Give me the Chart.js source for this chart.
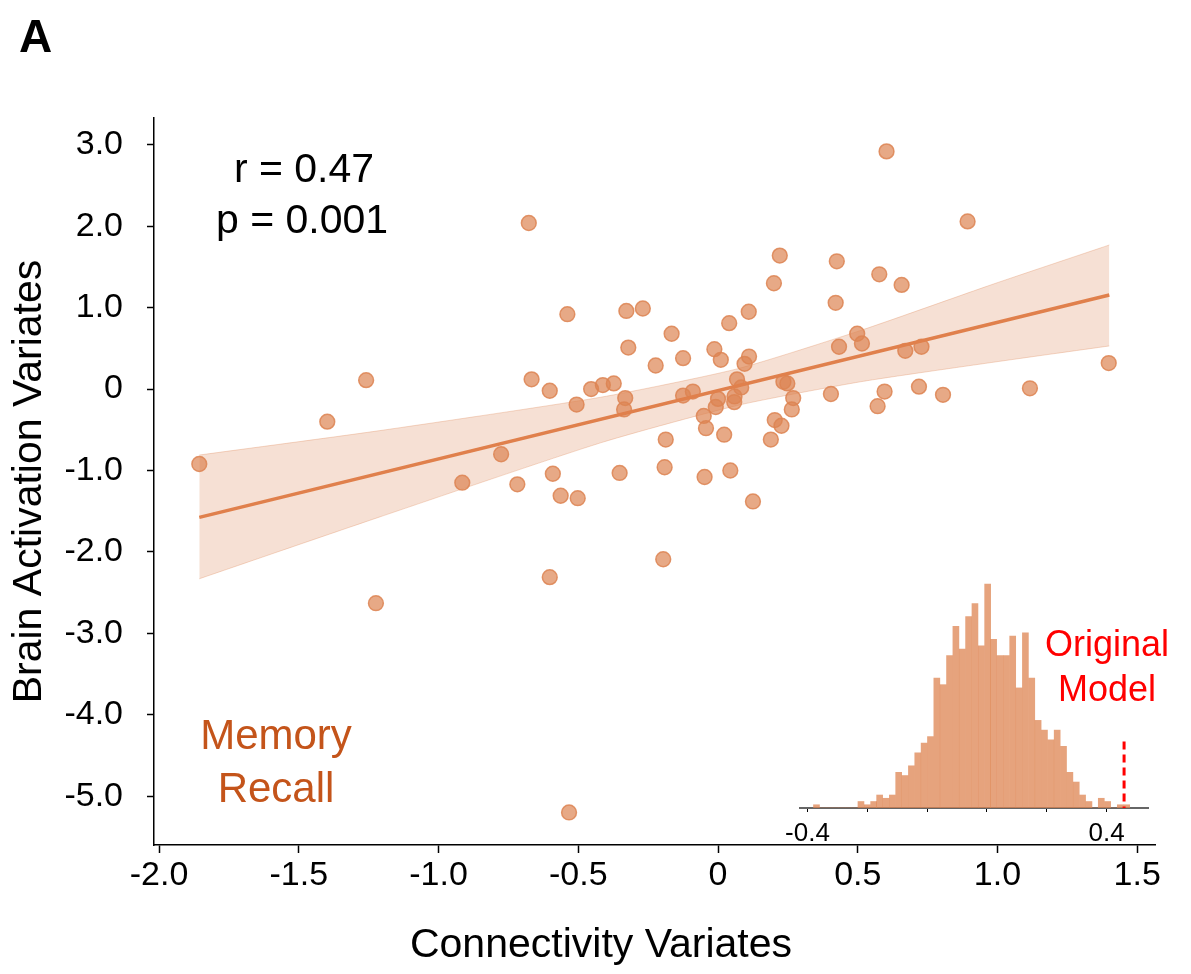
<!DOCTYPE html>
<html>
<head>
<meta charset="utf-8">
<script src="https://cdn.jsdelivr.net/npm/chart.js@4.4.1/dist/chart.umd.min.js"></script>
<style>
  html, body { margin: 0; padding: 0; background: #fff; }
  #wrap { position: relative; width: 1191px; height: 974px; }
  #main { position: absolute; left: 0; top: 0; }
  #inset { position: absolute; left: 760px; top: 570px; }
</style>
</head>
<body>
<div id="wrap">
  <canvas id="main" width="1191" height="974"></canvas>
  <canvas id="inset" width="400" height="290"></canvas>
</div>
<script>
// scatter: connectivity variate (x) vs brain activation variate (y)
const connX = [-1.856, -1.398, -1.259, -1.224, -0.915, -0.776, -0.718, -0.677, -0.667, -0.602,
  -0.602, -0.591, -0.563, -0.539, -0.533, -0.506, -0.502, -0.454, -0.412, -0.373,
  -0.352, -0.332, -0.336, -0.328, -0.321, -0.269, -0.223, -0.196, -0.191, -0.187,
  -0.166, -0.125, -0.125, -0.090, -0.051, -0.048, -0.043, -0.013, -0.008, 0.000,
  0.010, 0.022, 0.040, 0.044, 0.058, 0.059, 0.068, 0.083, 0.095, 0.110,
  0.111, 0.125, 0.189, 0.200, 0.203, 0.221, 0.227, 0.234, 0.248, 0.264,
  0.269, 0.404, 0.421, 0.425, 0.433, 0.498, 0.515, 0.571, 0.577, 0.596,
  0.603, 0.657, 0.670, 0.719, 0.728, 0.805, 0.893, 1.116, 1.398];
const brainY = [-0.92, -0.40, 0.11, -2.63, -1.15, -0.80, -1.17, 2.04, 0.12, -0.02,
  -2.31, -1.04, -1.31, 0.92, -5.20, -0.19, -1.34, 0.00, 0.05, 0.07,
  -1.03, -0.11, -0.25, 0.96, 0.51, 0.99, 0.29, -2.09, -0.96, -0.62,
  0.68, 0.38, -0.08, -0.03, -0.33, -1.08, -0.48, 0.49, -0.22, -0.12,
  0.36, -0.56, 0.81, -1.00, -0.16, -0.09, 0.12, 0.02, 0.31, 0.95,
  0.40, -1.38, -0.62, 1.30, -0.38, 1.64, -0.45, 0.09, 0.07, -0.25,
  -0.11, -0.06, 1.06, 1.57, 0.52, 0.68, 0.56, -0.21, 1.41, -0.03,
  2.92, 1.28, 0.47, 0.03, 0.52, -0.07, 2.06, 0.01, 0.32];

// regression line and its confidence band
const fitX = [-1.856, 1.40];
const fitY = [-1.576, 1.155];
const bandX = [-1.856, -1.21, -0.42, 0.07, 0.51, 0.985, 1.40];
const bandUpper = [-0.81, -0.51, -0.10, 0.25, 0.72, 1.29, 1.77];
const bandLower = [-2.33, -1.57, -0.66, -0.20, 0.09, 0.33, 0.53];

const xTicks = [-2, -1.5, -1, -0.5, 0, 0.5, 1, 1.5];
const yTicks = [-5, -4, -3, -2, -1, 0, 1, 2, 3];

// inset: permutation histogram
const histBins = [-0.376, -0.359, -0.342, -0.325, -0.308, -0.291, -0.274, -0.257, -0.240, -0.223,
  -0.207, -0.190, -0.173, -0.156, -0.139, -0.122, -0.105, -0.088, -0.071, -0.054,
  -0.037, -0.020, -0.003, 0.014, 0.031, 0.048, 0.065, 0.082, 0.098, 0.115,
  0.132, 0.149, 0.166, 0.183, 0.200, 0.217, 0.234, 0.251, 0.268, 0.285,
  0.302, 0.319, 0.336, 0.353, 0.369, 0.386, 0.403, 0.420, 0.437, 0.454];
const histCounts = [1, 0, 0, 0, 0, 0, 0, 2, 1, 2,
  4, 3, 4, 11, 10, 13, 17, 20, 22, 40,
  38, 47, 56, 49, 59, 63, 50, 69, 52, 47,
  47, 53, 37, 54, 40, 27, 24, 21, 24, 19,
  11, 8, 4, 2, 0, 3, 2, 0, 1, 1];
const histTicks = [-0.4, -0.24, -0.08, 0.08, 0.24, 0.4];
const originalR = 0.447;
const originalTop = 20.5;

const FONT = '"Liberation Sans", Arial, Helvetica, sans-serif';
const ORANGE = 'rgb(221,132,82)';

const points = connX.map((x, i) => ({ x: x, y: brainY[i] }));
const fitLine = fitX.map((x, i) => ({ x: x, y: fitY[i] }));
const upper = bandX.map((x, i) => ({ x: x, y: bandUpper[i] }));
const lower = bandX.map((x, i) => ({ x: x, y: bandLower[i] }));

const fmtTick = v => (v === 0 ? '0' : v.toFixed(1));

// texts that sit inside the panel
const panelText = {
    id: 'panelText',
    afterDraw(chart){
        const ctx = chart.ctx;
        ctx.save();
        ctx.textBaseline = 'alphabetic';
        ctx.fillStyle = '#000';
        ctx.font = 'bold 46px ' + FONT;
        ctx.textAlign = 'left';
        ctx.fillText('A', 19, 52);

        ctx.textAlign = 'center';
        ctx.font = '41px ' + FONT;
        ctx.fillText('r = 0.47', 304, 182);
        ctx.fillText('p = 0.001', 302, 233);
        ctx.fillText('Connectivity Variates', 601, 957);

        ctx.fillStyle = 'rgb(196,84,26)';
        ctx.font = '42px ' + FONT;
        ctx.fillText('Memory', 276, 749);
        ctx.fillText('Recall', 276, 802);

        ctx.fillStyle = '#ff0000';
        ctx.font = '36px ' + FONT;
        ctx.fillText('Original', 1107, 656);
        ctx.fillText('Model', 1107, 701);
        ctx.restore();
    }
};

new Chart(document.getElementById('main'), {
    type: 'scatter',
    data: {
        datasets: [
            {
                data: fitLine,
                showLine: true,
                borderColor: 'rgb(224,128,76)',
                borderWidth: 3.5,
                pointRadius: 0,
                fill: false
            },
            {
                data: points,
                pointRadius: 7.4,
                backgroundColor: 'rgba(221,132,82,0.7)',
                borderColor: 'rgba(221,132,82,0.85)',
                borderWidth: 1.5
            },
            {
                data: upper,
                showLine: true,
                tension: 0.2,
                borderColor: 'rgba(221,132,82,0.3)',
                borderWidth: 1,
                pointRadius: 0,
                backgroundColor: 'rgba(221,132,82,0.25)',
                fill: '+1'
            },
            {
                data: lower,
                showLine: true,
                tension: 0.2,
                borderColor: 'rgba(221,132,82,0.3)',
                borderWidth: 1,
                pointRadius: 0,
                fill: false
            }
        ]
    },
    options: {
        responsive: false,
        animation: false,
        layout: { padding: { left: 0, right: 36, top: 118, bottom: 0 } },
        plugins: { legend: { display: false }, tooltip: { enabled: false } },
        scales: {
            x: {
                type: 'linear',
                min: -2.018,
                max: 1.5635,
                afterBuildTicks: s => { s.ticks = xTicks.map(v => ({ value: v })); },
                afterFit: s => { s.height = 129; },
                ticks: { callback: fmtTick, color: '#000', font: { family: FONT, size: 34 }, padding: 2, maxRotation: 0 },
                grid: { drawOnChartArea: false, drawTicks: true, tickLength: 8, tickColor: '#000', tickWidth: 1.5 },
                border: { display: true, color: '#000', width: 1.5 }
            },
            y: {
                type: 'linear',
                min: -5.60,
                max: 3.33,
                afterBuildTicks: s => { s.ticks = yTicks.map(v => ({ value: v })); },
                afterFit: s => { s.width = 154; },
                ticks: { callback: fmtTick, color: '#000', font: { family: FONT, size: 34 }, padding: 24 },
                grid: { drawOnChartArea: false, drawTicks: true, tickLength: 7, tickColor: '#000', tickWidth: 1.5 },
                border: { display: true, color: '#000', width: 1.5 },
                title: {
                    display: true,
                    text: 'Brain Activation Variates',
                    color: '#000',
                    font: { family: FONT, size: 41 },
                    padding: { top: 5, bottom: 0 }
                }
            }
        }
    },
    plugins: [panelText]
});

// inset histogram
new Chart(document.getElementById('inset'), {
    data: {
        datasets: [
            {
                type: 'line',
                data: [{ x: originalR, y: originalTop }, { x: originalR, y: 0 }],
                borderColor: '#ff0000',
                borderWidth: 3,
                borderDash: [8, 5],
                pointRadius: 0,
                fill: false
            },
            {
                type: 'bar',
                data: histBins.map((b, i) => ({ x: b, y: histCounts[i] })),
                backgroundColor: 'rgba(221,132,82,0.75)',
                borderWidth: 0,
                barPercentage: 1,
                categoryPercentage: 1
            }
        ]
    },
    options: {
        responsive: false,
        animation: false,
        layout: { padding: { left: 40, right: 12, top: 10, bottom: 0 } },
        plugins: { legend: { display: false }, tooltip: { enabled: false } },
        scales: {
            x: {
                type: 'linear',
                offset: false,
                min: -0.4201,
                max: 0.511,
                afterBuildTicks: s => { s.ticks = histTicks.map(v => ({ value: v })); },
                afterFit: s => { s.height = 52; },
                ticks: {
                    callback: (v, i, arr) => (i === 0 || i === arr.length - 1 ? v.toFixed(1) : ''),
                    color: '#000',
                    font: { family: FONT, size: 26 },
                    padding: 6,
                    maxRotation: 0
                },
                grid: { drawOnChartArea: false, offset: false, drawTicks: true, tickLength: 4, tickColor: '#000' },
                border: { display: true, color: '#666', width: 2 }
            },
            y: {
                display: false,
                min: 0,
                max: 70.25
            }
        }
    }
});
</script>
</body>
</html>
